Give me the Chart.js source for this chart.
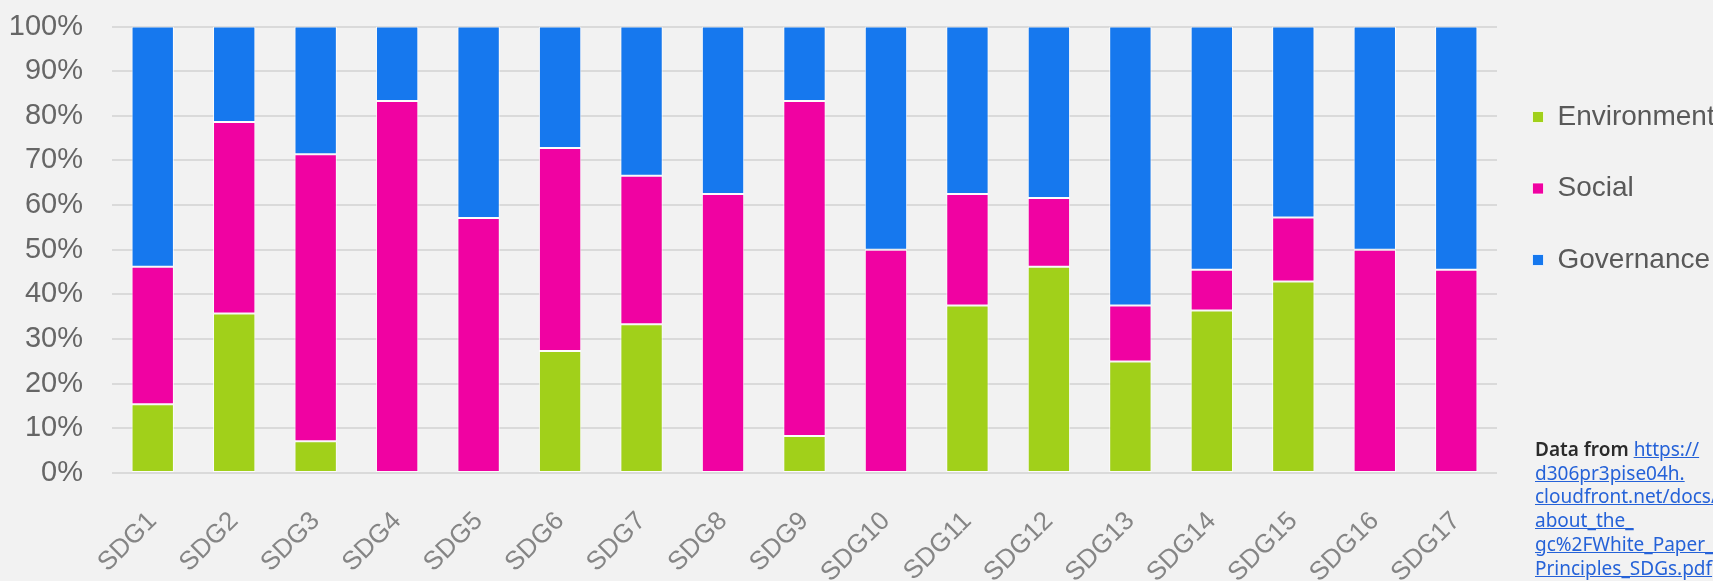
<!DOCTYPE html>
<html>
<head>
<meta charset="utf-8">
<script src="https://cdn.jsdelivr.net/npm/chart.js@4"></script>
<style>
  html, body { margin: 0; padding: 0; background: #f2f2f2; overflow: hidden; }
  #wrap { position: relative; width: 1713px; height: 581px; }
  #note {
    position: absolute; left: 1535px; top: 438px; width: 178px; overflow: hidden;
    font-family: "Noto Sans", "Open Sans", sans-serif; font-size: 19px; line-height: 23.7px;
    white-space: nowrap; color: #2b2b2b;
  }
  #note b { font-weight: 600; }
  #note a { color: #2562d8; text-decoration: underline; }
</style>
</head>
<body>
<div id="wrap">
  <canvas id="sdg-chart"></canvas>
  <div id="note"><b>Data from</b> <a>https://</a><br><a>d306pr3pise04h.</a><br><a>cloudfront.net/docs/</a><br><a>about_the_</a><br><a>gc%2FWhite_Paper_</a><br><a>Principles_SDGs.pdf</a></div>
</div>
<script>
const labels = ["SDG1", "SDG2", "SDG3", "SDG4", "SDG5", "SDG6", "SDG7", "SDG8", "SDG9",
  "SDG10", "SDG11", "SDG12", "SDG13", "SDG14", "SDG15", "SDG16", "SDG17"];
const environment = [15.4, 35.7, 7.1, 0, 0, 27.3, 33.3, 0, 8.3, 0, 37.5, 46.2, 25.0, 36.4, 42.9, 0, 0];
const social = [30.8, 42.9, 64.3, 83.3, 57.1, 45.5, 33.3, 62.5, 75.0, 50.0, 25.0, 15.4, 12.5, 9.1, 14.3, 50.0, 45.5];
const governance = [53.8, 21.4, 28.6, 16.7, 42.9, 27.2, 33.4, 37.5, 16.7, 50.0, 37.5, 38.4, 62.5, 54.5, 42.8, 50.0, 54.5];
const yTicks = [0, 10, 20, 30, 40, 50, 60, 70, 80, 90, 100];

document.addEventListener("DOMContentLoaded", () => {
  const canvas = document.getElementById("sdg-chart");
  canvas.width = 1713;
  canvas.height = 581;

  const bar = (label, values, color) => ({
    label: label,
    data: values,
    backgroundColor: color,
    borderColor: "rgba(255,255,255,0.75)",
    borderWidth: 1,
    borderSkipped: false,
    barPercentage: 0.52,
    categoryPercentage: 1,
  });

  // nudge the legend a little left of the plot edge, like the original
  const legendShift = {
    id: "legendShift",
    afterLayout(chart) {
      chart.legend.left -= 8;
    },
  };

  new Chart(canvas.getContext("2d"), {
    type: "bar",
    data: {
      labels: labels,
      datasets: [
        bar("Environment", environment, "#a1d01a"),
        bar("Social", social, "#f002a2"),
        bar("Governance", governance, "#1678ee"),
      ],
    },
    plugins: [legendShift],
    options: {
      responsive: false,
      animation: false,
      layout: { padding: { left: 9, top: 0, right: 0, bottom: 0 } },
      plugins: {
        tooltip: { enabled: false },
        legend: {
          position: "right",
          align: "start",
          maxWidth: 216,
          title: { display: true, text: " ", font: { size: 10 }, padding: { top: 47.5, bottom: 0 } },
          labels: {
            boxWidth: 11,
            boxHeight: 11,
            padding: 43.5,
            color: "#595959",
            font: { family: "Liberation Sans, Arial, sans-serif", size: 28 },
          },
        },
      },
      scales: {
        x: {
          stacked: true,
          grid: { display: false, drawTicks: false },
          border: { display: false },
          afterFit: (axis) => {
            // keep the plot bottom where the reference has it; labels run below
            axis.height = 108;
            axis.paddingLeft = 0;
            axis.paddingRight = 0;
          },
          ticks: {
            autoSkip: false,
            minRotation: 45,
            maxRotation: 45,
            padding: 33,
            color: "#858585",
            font: { family: "Liberation Sans, Arial, sans-serif", size: 26 },
          },
        },
        y: {
          stacked: true,
          min: 0,
          max: 100,
          afterBuildTicks: (axis) => { axis.ticks = yTicks.map((v) => ({ value: v })); },
          afterFit: (axis) => {
            axis.width = 103;
            axis.paddingTop = 26.5;
            axis.paddingBottom = 0;
          },
          grid: { color: "#dadada", lineWidth: 2, drawTicks: false },
          border: { display: false },
          ticks: {
            padding: 29,
            color: "#666666",
            font: { family: "Liberation Sans, Arial, sans-serif", size: 29 },
            callback: (v) => v + "%",
          },
        },
      },
    },
  });
});
</script>
</body>
</html>
